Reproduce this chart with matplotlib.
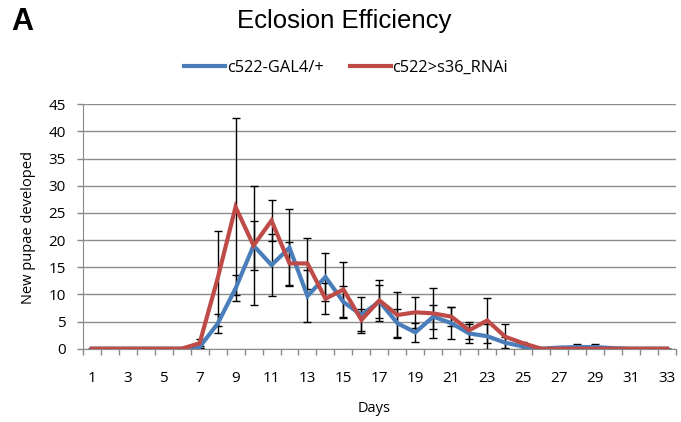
import matplotlib
matplotlib.use("Agg")
import matplotlib.pyplot as plt
import numpy as np

days = list(range(1, 34))
ctrl = [0, 0, 0, 0, 0, 0, 0.3, 4.6, 11.1, 19.0, 15.4, 18.6, 9.7, 13.2, 8.6, 6.2, 8.7,
        4.7, 3.0, 5.9, 4.7, 2.8, 2.3, 1.1, 0.4, 0, 0.2, 0.3, 0.3, 0.1, 0, 0, 0]
ctrl_err = [0, 0, 0, 0, 0, 0, 0.2, 1.7, 2.4, 4.5, 5.7, 7.1, 4.7, 4.5, 3.0, 3.3, 3.0,
            2.6, 1.8, 2.2, 3.0, 1.7, 2.3, 1.0, 0.4, 0, 0.2, 0.5, 0.5, 0.1, 0, 0, 0]
rnai = [0, 0, 0, 0, 0, 0, 1.0, 12.9, 26.1, 19.0, 23.6, 15.7, 15.7, 9.2, 10.9, 5.3, 8.9,
        6.2, 6.7, 6.5, 5.9, 3.4, 5.2, 2.2, 1.0, 0, 0, 0, 0, 0, 0, 0, 0]
rnai_err = [0, 0, 0, 0, 0, 0, 0.8, 8.8, 16.3, 11.0, 3.8, 3.9, 4.7, 2.9, 5.1, 2.1, 3.8,
            4.3, 2.9, 4.6, 1.8, 1.6, 4.2, 2.3, 0.3, 0, 0, 0, 0, 0, 0, 0, 0]
labels = ["c522-GAL4/+", "c522>s36_RNAi"]
blue = "#4a7ebb"
red = "#be4b48"

fig = plt.figure(figsize=(6.81, 4.22), dpi=100)
ax = fig.add_axes([0.1215, 0.1737, 0.8712, 0.5791])

font = "Open Sans"
ax.errorbar(days, ctrl, yerr=ctrl_err, fmt="none", ecolor="black", elinewidth=1,
            capsize=3, capthick=1, zorder=2)
ax.errorbar(days, rnai, yerr=rnai_err, fmt="none", ecolor="black", elinewidth=1,
            capsize=3, capthick=1, zorder=2)
l1, = ax.plot(days, ctrl, color=blue, lw=3, label=labels[0], zorder=3, solid_joinstyle="miter")
l2, = ax.plot(days, rnai, color=red, lw=3, label=labels[1], zorder=4, solid_joinstyle="miter")

ax.set_xlim(0.5, 33.5)
ax.set_ylim(0, 45)
ax.set_yticks(np.arange(0, 46, 5))
ax.set_xticks(days[::2])
ax.set_xticks(np.arange(0.5, 34, 1), minor=True)
ax.tick_params(axis="x", which="major", length=0, pad=16)
ax.tick_params(axis="x", which="minor", length=4, color="#888888", width=1)
ax.tick_params(axis="y", length=4, color="#888888", width=1, pad=8)
for lab in ax.get_xticklabels() + ax.get_yticklabels():
    lab.set_fontfamily(font)
    lab.set_fontsize(11)
ax.grid(axis="y", color="#8c8c8c", lw=1)
ax.set_axisbelow(True)
for s in ["top", "right"]:
    ax.spines[s].set_visible(False)
ax.spines["left"].set_color("#888888")
ax.spines["bottom"].set_color("#888888")

fig.text(0.55, 1 - 408 / 422, "Days", ha="center", va="center", fontfamily=font, fontsize=10.5)
fig.text(28 / 681, 1 - 228 / 422, "New pupae developed", ha="center", va="center",
         rotation=90, fontfamily=font, fontsize=10.5)

fig.text(344 / 681, 1 - 21 / 422, "Eclosion Efficiency", ha="center", va="center",
         fontfamily="Liberation Sans", fontsize=18.5)
fig.text(11 / 681, 1 - 22 / 422, "A", ha="left", va="center", fontfamily="Liberation Sans",
         fontsize=22, fontweight="bold")
leg = fig.legend(handles=[l1, l2], loc="center", bbox_to_anchor=(346 / 681, 1 - 68 / 422), ncol=2,
                 frameon=False, prop={"family": font, "size": 11.8}, handlelength=2.5,
                 handletextpad=0.1, columnspacing=1.6)

fig.savefig("out.png", dpi=100)
